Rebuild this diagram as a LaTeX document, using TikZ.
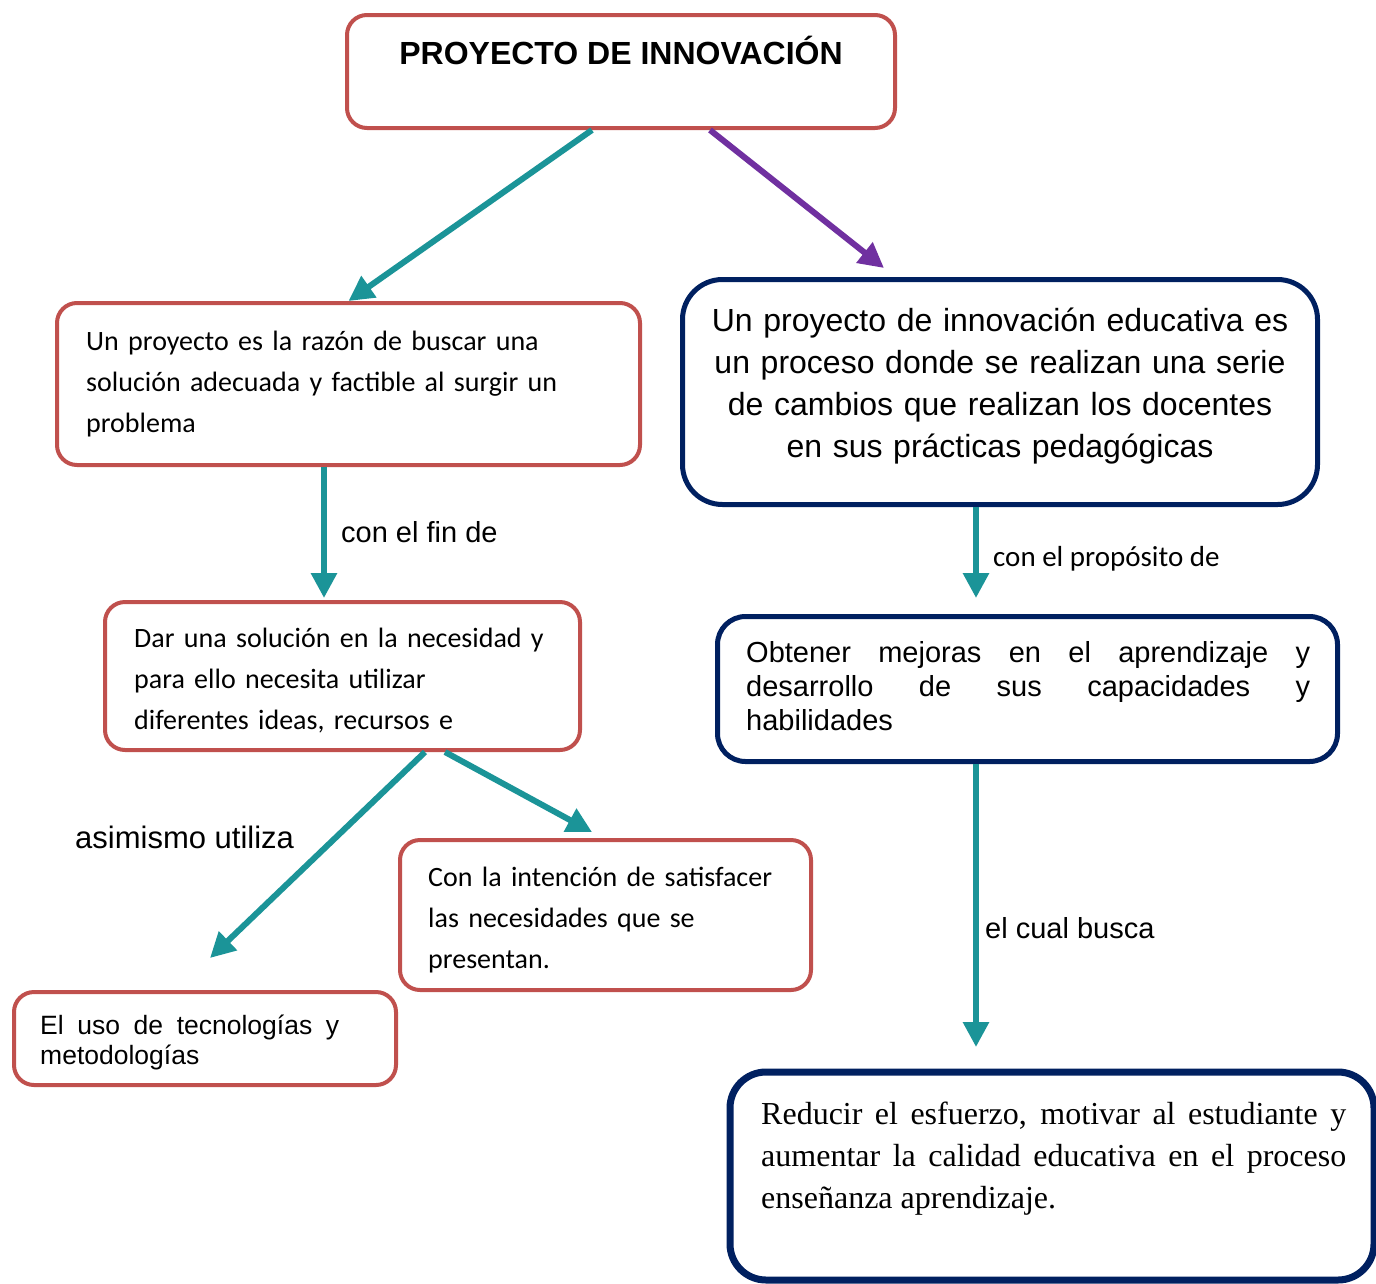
\documentclass[tikz,border=0pt]{standalone}
\usepackage{fontspec}
\setmainfont{Liberation Sans}
\newfontfamily\carfont{Carlito}
\newfontfamily\timfont{Liberation Serif}
\usetikzlibrary{arrows.meta}
\definecolor{boxred}{HTML}{C0504D}
\definecolor{boxnavy}{HTML}{002060}
\definecolor{arrteal}{HTML}{1B9498}
\definecolor{arrpurple}{HTML}{7030A0}
\begin{document}
\begin{tikzpicture}[x=1pt,y=-1pt,
  redbox/.style={draw=boxred, line width=4pt, rounded corners=20pt, inner sep=0pt},
  navybox/.style={draw=boxnavy, line width=5pt, rounded corners=36pt, inner sep=0pt},
  txt/.style={inner sep=0pt, anchor=base west},
  conn/.style={draw=arrteal, line width=6pt, -{Triangle[length=25pt,width=25pt]}},
  pconn/.style={draw=arrpurple, line width=6pt, -{Triangle[length=25pt,width=25pt]}},
  cal28/.style={font=\carfont\fontsize{28}{41}\selectfont}
]
\path[use as bounding box, fill=white] (0,0) rectangle (1376,1283);

% boxes
\node[redbox, minimum width=548pt, minimum height=113pt] (title) at (621,71.5) {};
\node[redbox, minimum width=583pt, minimum height=162pt] (A) at (348.5,384) {};
\node[navybox, minimum width=635pt, minimum height=225pt, rounded corners=40pt] (B) at (1000,392) {};
\node[redbox, minimum width=475pt, minimum height=148pt] (C) at (342.5,676) {};
\node[redbox, minimum width=382pt, minimum height=93pt] (D) at (205,1038.5) {};
\node[redbox, minimum width=411pt, minimum height=150pt] (E) at (605.5,915) {};
\node[navybox, minimum width=620pt, minimum height=145pt, rounded corners=28pt] (F) at (1027.5,689) {};
\node[navybox, line width=7pt, minimum width=644pt, minimum height=208pt] (G) at (1052,1176) {};

% texts
\node[inner sep=0pt, anchor=base, font=\bfseries\fontsize{32}{38}\selectfont] (titletxt) at (621,64) {PROYECTO DE INNOVACIÓN};
\node[txt, text width=540pt, align=left, cal28] (atxt) at (86,350) {Un proyecto es la razón de buscar una\\ solución adecuada y factible al surgir un\\ problema};
\node[inner sep=0pt, anchor=base, text width=630pt, align=center, font=\fontsize{32}{42.3}\selectfont] (btxt) at (1000,331) {Un proyecto de innovación educativa es\\ un proceso donde se realizan una serie\\ de cambios que realizan los docentes\\ en sus prácticas pedagógicas};
\node[txt, text width=440pt, align=left, cal28] (ctxt) at (134,647) {Dar una solución en la necesidad y\\ para ello necesita utilizar\\ diferentes ideas, recursos e};
\node[txt, text width=380pt, align=left, cal28] (etxt) at (428,886) {Con la intención de satisfacer\\ las necesidades que se\\ presentan.};
\node[txt, text width=299pt, align=justify, font=\fontsize{26.5}{30}\selectfont] (dtxt) at (40,1034) {El uso de tecnologías y\linebreak metodologías};
\node[txt, text width=564pt, align=justify, font=\fontsize{29}{34}\selectfont] (ftxt) at (746,662) {Obtener mejoras en el aprendizaje y\linebreak desarrollo de sus capacidades y\linebreak habilidades};
\node[txt, text width=585pt, align=justify, font=\timfont\fontsize{32}{42}\selectfont] (gtxt) at (761,1124) {Reducir el esfuerzo, motivar al estudiante y\linebreak aumentar la calidad educativa en el proceso\linebreak enseñanza aprendizaje.};

% labels
\node[txt, font=\fontsize{29}{34}\selectfont] (lfin) at (341,542) {con el fin de};
\node[txt, font=\fontsize{31}{36}\selectfont] (lasim) at (75,848) {asimismo utiliza};
\node[txt, font=\carfont\fontsize{29}{34}\selectfont] (lprop) at (993,566) {con el propósito de};
\node[txt, font=\fontsize{29}{34}\selectfont] (lcual) at (985,938) {el cual busca};

% connectors
\draw[conn] ([xshift=-29pt]title.south) -- (A.north);
\draw[pconn] ([xshift=89pt]title.south) -- ([xshift=-116pt,yshift=9pt]B.north);
\draw[conn] ([xshift=-24.5pt]A.south) -- ([xshift=-18.5pt,yshift=2pt]C.north);
\draw[conn] ([xshift=82.5pt]C.south) -- ([xshift=5pt,yshift=32pt]D.north);
\draw[conn] ([xshift=102.5pt]C.south) -- ([xshift=-13.5pt,yshift=6pt]E.north);
\draw[conn] ([xshift=-24pt]B.south) -- ([xshift=-51.5pt,yshift=16pt]F.north);
\draw[conn] ([xshift=-51.5pt]F.south) -- ([xshift=-76pt,yshift=21.5pt]G.north);
\end{tikzpicture}
\end{document}
